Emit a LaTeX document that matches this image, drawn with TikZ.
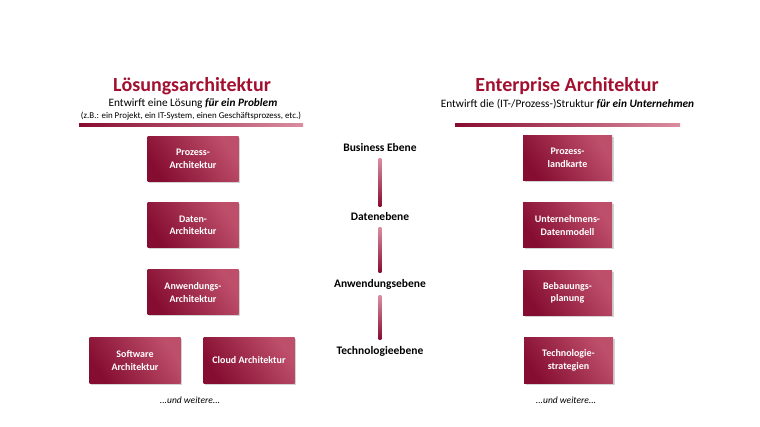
\documentclass[tikz,border=0pt]{standalone}
\usepackage{fontspec}
\setmainfont{Carlito}
\usepackage{tikz}
\usetikzlibrary{positioning,calc,shadows}

\definecolor{titlered}{HTML}{A3102F}
\definecolor{boxdark}{HTML}{850D31}
\definecolor{boxlight}{HTML}{BE4F6B}
\definecolor{linedark}{HTML}{870C2F}
\definecolor{linelight}{HTML}{DB8DA0}

\begin{document}
\begin{tikzpicture}[x=1pt,y=-1pt,
    archbox/.style={shade,top color=boxlight,bottom color=boxdark,shading angle=-55,
        drop shadow={shadow xshift=1.5pt,shadow yshift=-1.5pt,opacity=0.35},
        text=white,font=\fontsize{10}{12.5}\selectfont\bfseries,align=center,
        minimum width=91pt,minimum height=45pt,inner sep=0pt},
    level/.style={font=\fontsize{11.5}{13}\selectfont\bfseries},
    more/.style={font=\fontsize{9.5}{11}\selectfont\itshape}]
            \useasboundingbox (0,0) rectangle (760,427);

            % headings
            \node[text=titlered,font=\fontsize{20}{23}\selectfont\bfseries] (ltitle) at (192,86) {Lösungsarchitektur};
            \node[font=\fontsize{11.3}{13}\selectfont] (lsub) at (193,104) {Entwirft eine Lösung \textbf{\textit{für ein Problem}}};
            \node[font=\fontsize{8.9}{10}\selectfont] (lnote) at (191,116.5) {(z.B.: ein Projekt, ein IT-System, einen Geschäftsprozess, etc.)};
            \node[text=titlered,font=\fontsize{20}{23}\selectfont\bfseries] (rtitle) at (567,86) {Enterprise Architektur};
            \node[font=\fontsize{11.3}{13}\selectfont] (rsub) at (567.5,104) {Entwirft die (IT-/Prozess-)Struktur \textbf{\textit{für ein Unternehmen}}};

            \shade[left color=linedark,right color=linelight] (79,123.5) rectangle (303,126.5);
            \shade[left color=linedark,right color=linelight] (455,123.5) rectangle (680,126.5);

            % left column
            \node[archbox] (prozarch) at (193,159) {Prozess-\\Architektur};
            \node[archbox] (datarch) at (193,225.5) {Daten-\\Architektur};
            \node[archbox] (anwarch) at (193,292.5) {Anwendungs-\\Architektur};
            \node[archbox] (softarch) at (135,360.5) {Software\\Architektur};
            \node[archbox] (cloudarch) at (249,360.5) {Cloud Architektur};
            \node[more] (lmore) at (190,400) {...und weitere...};

            % right column
            \node[archbox,minimum width=89pt] (prozland) at (567.5,158) {Prozess-\\landkarte};
            \node[archbox,minimum width=89pt] (untdat) at (567.5,225.5) {Unternehmens-\\Datenmodell};
            \node[archbox,minimum width=89pt] (bebplan) at (567.5,293) {Bebauungs-\\planung};
            \node[archbox,minimum width=89pt] (techstrat) at (568.5,360.5) {Technologie-\\strategien};
            \node[more] (rmore) at (566,400) {...und weitere...};

            % levels
            \node[level] (business) at (380,148) {Business Ebene};
            \node[level] (daten) at (380,217) {Datenebene};
            \node[level] (anwendung) at (380,284) {Anwendungsebene};
            \node[level] (technologie) at (380,351) {Technologieebene};

            \shade[top color=linelight,bottom color=linedark] ($(business.south)+(-1.3,3)$) rectangle ($(daten.north)+(1.3,-3)$);
            \shade[top color=linelight,bottom color=linedark] ($(daten.south)+(-1.3,3)$) rectangle ($(anwendung.north)+(1.3,-3)$);
            \shade[top color=linelight,bottom color=linedark] ($(anwendung.south)+(-1.3,3)$) rectangle ($(technologie.north)+(1.3,-3)$);
\end{tikzpicture}
\end{document}
